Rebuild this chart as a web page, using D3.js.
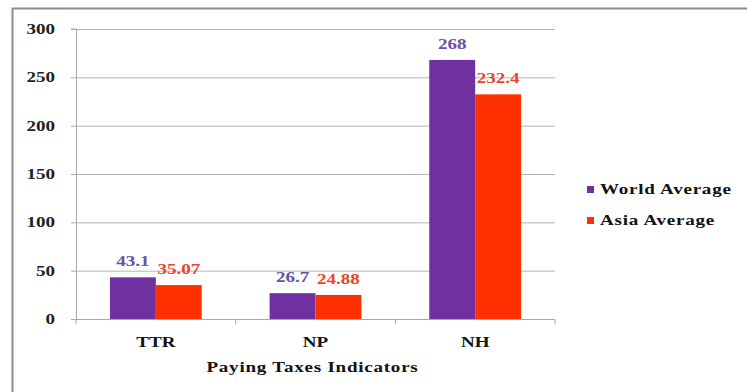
<!DOCTYPE html>
<html>
<head>
<meta charset="utf-8">
<script src="https://cdn.jsdelivr.net/npm/d3@7/dist/d3.min.js"></script>
<style>
  html, body { margin: 0; padding: 0; background: #fff; }
  svg { display: block; }
</style>
</head>
<body>
<svg id="chart" width="747" height="392"></svg>
<script>
// Paying taxes indicators: world vs Asia averages
const categories = ["TTR", "NP", "NH"];
const seriesNames = ["World Average", "Asia Average"];
const worldAverage = [43.1, 26.7, 268];
const asiaAverage = [35.07, 24.88, 232.4];
const yTicks = [0, 50, 100, 150, 200, 250, 300];
const xTitle = "Paying Taxes Indicators";

const barColors = ["#7030a0", "#ff3000"];
const labelColors = ["#6652a6", "#e8452e"];
const fontFamily = "'Liberation Serif', 'DejaVu Serif', serif";
const stretch = 1.27; // wide-set lettering

const svg = d3.select("#chart")
  .style("font-family", fontFamily)
  .style("font-weight", "bold");
const W = 747, H = 392;
const margin = { left: 76, right: 192, top: 29, bottom: 73 };
const plotW = W - margin.left - margin.right;
const plotH = H - margin.top - margin.bottom;

// outer chart frame
svg.append("rect")
  .attr("x", 12.5).attr("y", 8.5)
  .attr("width", 900).attr("height", 600)
  .attr("fill", "#fff")
  .attr("stroke", "#8c8c8c").attr("stroke-width", 2);

const g = svg.append("g").attr("transform", `translate(${margin.left},${margin.top})`);

const x0 = d3.scaleBand().domain(categories).range([0, plotW]).paddingInner(0.425).paddingOuter(0.2125);
const x1 = d3.scaleBand().domain(seriesNames).range([0, x0.bandwidth()]);
const y = d3.scaleLinear().domain([0, 300]).range([plotH, 0]);

// helper: stretched text placed at (px, py)
function stretchedText(sel, px, py) {
  return sel.attr("transform", `translate(${px},${py}) scale(${stretch},1)`)
    .attr("font-family", fontFamily).attr("font-weight", "bold");
}

// gridlines
g.append("g").selectAll("line").data(yTicks.filter(d => d > 0)).join("line")
  .attr("x1", 0).attr("x2", plotW)
  .attr("y1", d => y(d) + 0.5).attr("y2", d => y(d) + 0.5)
  .attr("stroke", "#b4b4b4").attr("stroke-width", 1);

// y axis
const yAxis = g.append("g").call(d3.axisLeft(y).tickValues(yTicks).tickSize(5).tickFormat(""));
yAxis.select(".domain").attr("stroke", "#a8a8a8").attr("d", `M-5,${y(300)}H0.5V${plotH}`);
yAxis.selectAll(".tick line").attr("stroke", "#a8a8a8");
g.append("g").selectAll("text").data(yTicks).join("text")
  .each(function(d) { stretchedText(d3.select(this), -21, y(d) + 5); })
  .attr("text-anchor", "end")
  .attr("font-size", 15).attr("fill", "#222")
  .text(d => d);

// x axis
const boundaries = [0].concat(categories.map(c => x0(c) + x0.bandwidth() + x0.step() * x0.paddingInner() / 2));
const xAxisG = g.append("g").attr("transform", `translate(0,${plotH + 0.5})`);
xAxisG.append("line").attr("x1", 0).attr("x2", plotW).attr("stroke", "#a8a8a8");
xAxisG.selectAll("line.t").data(boundaries).join("line").attr("class", "t")
  .attr("x1", d => d).attr("x2", d => d).attr("y1", 0).attr("y2", 5)
  .attr("stroke", "#a8a8a8");

// category labels
g.append("g").selectAll("text").data(categories).join("text")
  .each(function(d) { stretchedText(d3.select(this), x0(d) + x0.bandwidth() / 2, plotH + 28); })
  .attr("text-anchor", "middle").attr("font-size", 15).attr("fill", "#111")
  .text(d => d);

// axis title
stretchedText(g.append("text"), plotW / 2 - 3, plotH + 53)
  .attr("text-anchor", "middle").attr("font-size", 15).attr("fill", "#111")
  .attr("letter-spacing", 0.6)
  .text(xTitle);

// bars
const rows = categories.map((c, i) => ({ cat: c, vals: [worldAverage[i], asiaAverage[i]] }));
const groups = g.append("g").selectAll("g").data(rows).join("g")
  .attr("transform", d => `translate(${x0(d.cat)},0)`);
groups.selectAll("rect").data(d => d.vals.map((v, k) => ({ k, v }))).join("rect")
  .attr("x", d => x1(seriesNames[d.k]))
  .attr("width", x1.bandwidth())
  .attr("y", d => y(d.v))
  .attr("height", d => plotH - y(d.v))
  .attr("fill", d => barColors[d.k]);

// value labels
groups.selectAll("text").data(d => d.vals.map((v, k) => ({ k, v }))).join("text")
  .each(function(d) { stretchedText(d3.select(this), x1(seriesNames[d.k]) + x1.bandwidth() / 2, y(d.v) - 11); })
  .attr("text-anchor", "middle").attr("font-size", 15)
  .attr("fill", d => labelColors[d.k])
  .text(d => d.v);

// legend
const legend = svg.append("g").attr("transform", "translate(587,186)");
const items = legend.selectAll("g").data(seriesNames).join("g")
  .attr("transform", (d, i) => `translate(0,${i * 31})`);
items.append("rect").attr("width", 7).attr("height", 7)
  .attr("fill", (d, i) => barColors[i]);
items.append("text")
  .each(function() { stretchedText(d3.select(this), 13, 8); })
  .attr("font-size", 15).attr("fill", "#111")
  .attr("letter-spacing", 0.6)
  .text(d => d);
</script>
</body>
</html>
